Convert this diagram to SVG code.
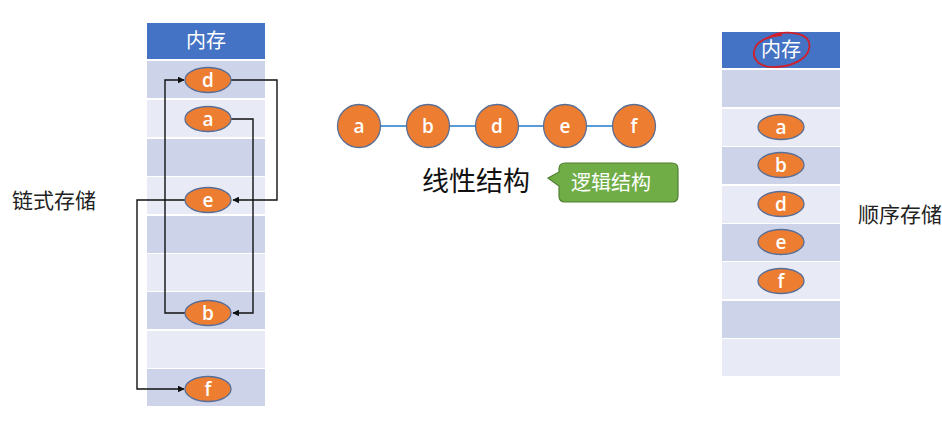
<svg xmlns="http://www.w3.org/2000/svg" width="942" height="421" viewBox="0 0 942 421">
<defs>
<style>
.hdr{fill:#4472C4}
.rd{fill:#CDD4E9}
.rl{fill:#E8EBF5}
.ht{font-family:"Noto Sans CJK SC",sans-serif;font-size:20px;fill:#fff;text-anchor:middle}
.el{fill:#ED7D31;stroke:#5A6F96;stroke-width:1.3}
.lt{font-family:"Open Sans","Liberation Sans",sans-serif;font-size:19px;font-weight:600;fill:#fff;text-anchor:middle}
.cn{fill:none;stroke:#111;stroke-width:1.4}
.lab{font-family:"Noto Sans CJK SC",sans-serif;font-size:21px;fill:#222}
</style>
<marker id="ah" viewBox="0 0 10 10" refX="9" refY="5" markerWidth="7" markerHeight="7" orient="auto" markerUnits="userSpaceOnUse">
<path d="M0,0 L10,5 L0,10 z" fill="#111"/>
</marker>
</defs>
<rect width="942" height="421" fill="#fff"/>

<g id="left-memory">
<rect class="hdr" x="147" y="23" width="118" height="36"/>
<text class="ht" x="206" y="48">内存</text>
<rect class="rd" x="147" y="61" width="118" height="37"/>
<rect class="rl" x="147" y="100" width="118" height="37"/>
<rect class="rd" x="147" y="139" width="118" height="37"/>
<rect class="rl" x="147" y="177" width="118" height="37"/>
<rect class="rd" x="147" y="216" width="118" height="37"/>
<rect class="rl" x="147" y="254" width="118" height="37"/>
<rect class="rd" x="147" y="292" width="118" height="37"/>
<rect class="rl" x="147" y="331" width="118" height="37"/>
<rect class="rd" x="147" y="369" width="118" height="37"/>
</g>

<g id="connectors">
<path class="cn" d="M231,80 H277 V200 H233" marker-end="url(#ah)"/>
<path class="cn" d="M231,119 H253 V313 H233" marker-end="url(#ah)"/>
<path class="cn" d="M185,200 H137 V389 H184" marker-end="url(#ah)"/>
<path class="cn" d="M185,313 H165 V80 H184" marker-end="url(#ah)"/>
<path d="M380,126 H613" stroke="#5B9BD5" stroke-width="2" fill="none"/>
</g>

<g id="l-d"><ellipse class="el" cx="208" cy="80" rx="23" ry="12.5"/><text class="lt" x="208" y="86.5">d</text></g>
<g id="l-a"><ellipse class="el" cx="208" cy="119" rx="23" ry="12.5"/><text class="lt" x="208" y="125.5">a</text></g>
<g id="l-e"><ellipse class="el" cx="208" cy="200" rx="23" ry="12.5"/><text class="lt" x="208" y="206.5">e</text></g>
<g id="l-b"><ellipse class="el" cx="208" cy="313" rx="23" ry="12.5"/><text class="lt" x="208" y="319.5">b</text></g>
<g id="l-f"><ellipse class="el" cx="208" cy="389" rx="23" ry="12.5"/><text class="lt" x="208" y="395.5">f</text></g>

<g id="label-chain"><text class="lab" x="12" y="208">链式存储</text></g>

<g id="c-a"><circle class="el" cx="359" cy="126" r="21.5"/><text class="lt" x="359" y="132.5">a</text></g>
<g id="c-b"><circle class="el" cx="428" cy="126" r="21.5"/><text class="lt" x="428" y="132.5">b</text></g>
<g id="c-d"><circle class="el" cx="497" cy="126" r="21.5"/><text class="lt" x="497" y="132.5">d</text></g>
<g id="c-e"><circle class="el" cx="565" cy="126" r="21.5"/><text class="lt" x="565" y="132.5">e</text></g>
<g id="c-f"><circle class="el" cx="634" cy="126" r="21.5"/><text class="lt" x="634" y="132.5">f</text></g>

<g id="linear"><text x="422" y="191" font-family="Noto Sans CJK SC,sans-serif" font-size="27" fill="#111">线性结构</text></g>

<g id="callout">
<path d="M565,163 H672 Q678,163 678,169 V196 Q678,202 672,202 H565 Q559,202 559,196 V186 L548,178 L559,172 V169 Q559,163 565,163 Z" fill="#70AD47" stroke="#507E32" stroke-width="1.2"/>
<text x="611" y="190" font-family="Noto Sans CJK SC,sans-serif" font-size="20" fill="#fff" text-anchor="middle">逻辑结构</text>
</g>

<g id="right-memory">
<rect class="hdr" x="722" y="32" width="118" height="36"/>
<text class="ht" x="781" y="57">内存</text>
<path d="M768,38 C780,30 805,31 809,42 C812,55 798,66 776,67 C758,68 751,58 755,48 C758,40 770,36 782,35" fill="none" stroke="#D0202A" stroke-width="1.8"/>
<rect class="rd" x="722" y="70" width="118" height="37"/>
<rect class="rl" x="722" y="109" width="118" height="37"/>
<rect class="rd" x="722" y="147" width="118" height="37"/>
<rect class="rl" x="722" y="186" width="118" height="37"/>
<rect class="rd" x="722" y="224" width="118" height="37"/>
<rect class="rl" x="722" y="262" width="118" height="37"/>
<rect class="rd" x="722" y="301" width="118" height="37"/>
<rect class="rl" x="722" y="339" width="118" height="37"/>
</g>

<g id="r-a"><ellipse class="el" cx="781" cy="127" rx="23" ry="12.5"/><text class="lt" x="781" y="133.5">a</text></g>
<g id="r-b"><ellipse class="el" cx="781" cy="165" rx="23" ry="12.5"/><text class="lt" x="781" y="171.5">b</text></g>
<g id="r-d"><ellipse class="el" cx="781" cy="204" rx="23" ry="12.5"/><text class="lt" x="781" y="210.5">d</text></g>
<g id="r-e"><ellipse class="el" cx="781" cy="242" rx="23" ry="12.5"/><text class="lt" x="781" y="248.5">e</text></g>
<g id="r-f"><ellipse class="el" cx="781" cy="281" rx="23" ry="12.5"/><text class="lt" x="781" y="287.5">f</text></g>

<g id="label-seq"><text class="lab" x="858" y="222" font-size="22">顺序存储</text></g>
</svg>
